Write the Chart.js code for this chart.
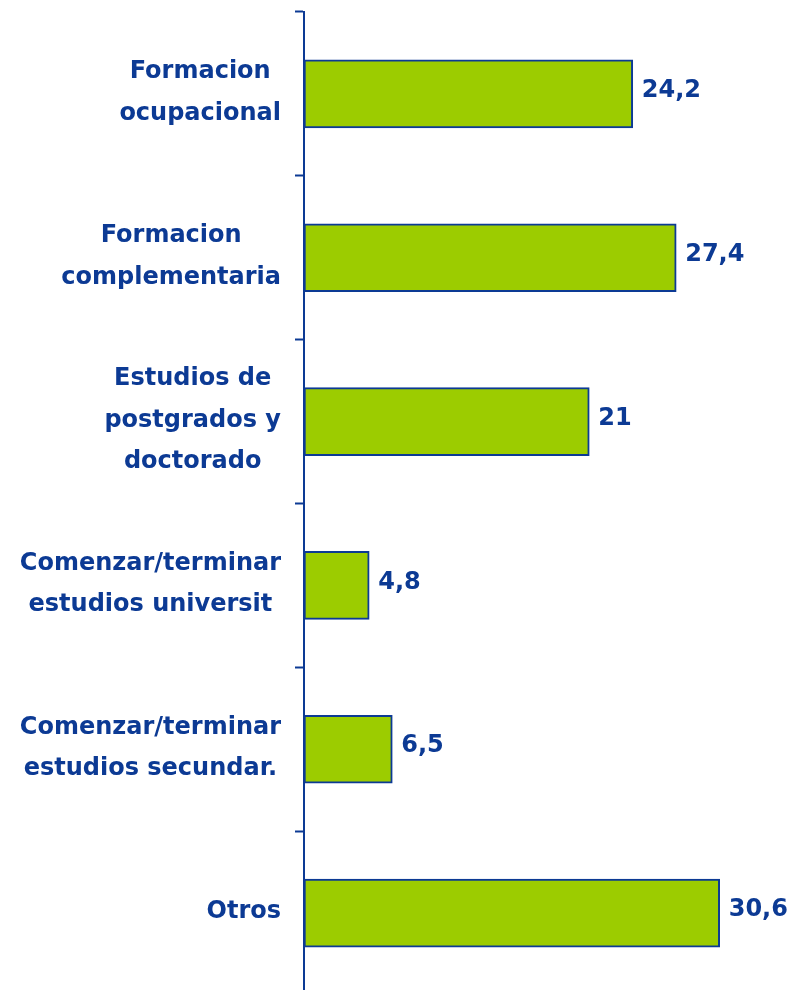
<!DOCTYPE html>
<html>
<head>
<meta charset="utf-8">
<script src="https://cdn.jsdelivr.net/npm/chart.js@4.4.0/dist/chart.umd.min.js"></script>
<style>
  html, body { margin: 0; padding: 0; background: #fff; overflow: hidden; }
  #wrap { width: 791px; height: 995px; }
</style>
</head>
<body>
<div id="wrap"><canvas id="grafico"></canvas></div>
<script>
const categorias = [
  ["Formacion", "ocupacional"],
  ["Formacion", "complementaria"],
  ["Estudios de", "postgrados y", "doctorado"],
  ["Comenzar/terminar", "estudios universit"],
  ["Comenzar/terminar", "estudios secundar."],
  ["Otros"]
];
const valores = [24.2, 27.4, 21, 4.8, 6.5, 30.6];

const azul = "#0c3a94";
const verde = "#9ccc00";
const fonte = "'DejaVu Sans', sans-serif";

// etiquetas das categorias: cada uma centrada no seu proprio bloco, alinhado a direita
const etiquetas = {
  id: "etiquetas",
  afterDraw(chart) {
    const ctx = chart.ctx;
    const y = chart.scales.y;
    const xDir = y.right - 9 - 14;
    const alturaLinha = 41.5;
    ctx.save();
    ctx.font = "bold 24px " + fonte;
    ctx.fillStyle = azul;
    ctx.textAlign = "center";
    ctx.textBaseline = "middle";
    categorias.forEach((linhas, i) => {
      const largura = Math.max(...linhas.map(l => ctx.measureText(l).width));
      const cx = xDir - largura / 2;
      const cy = y.getPixelForTick(i) - 1;
      const inicio = cy - (linhas.length - 1) * alturaLinha / 2;
      linhas.forEach((l, k) => ctx.fillText(l, cx, inicio + k * alturaLinha));
    });
    // valores no fim de cada barra
    ctx.textAlign = "left";
    chart.getDatasetMeta(0).data.forEach((barra, i) => {
      ctx.fillText(String(valores[i]).replace(".", ","), barra.x + 9, barra.y - 3);
    });
    ctx.restore();
  }
};

new Chart(document.getElementById("grafico"), {
  type: "bar",
  data: {
    labels: categorias,
    datasets: [{
      data: valores,
      backgroundColor: verde,
      borderColor: azul,
      borderWidth: 2,
      borderSkipped: false,
      barThickness: 68
    }]
  },
  options: {
    indexAxis: "y",
    responsive: true,
    maintainAspectRatio: false,
    animation: false,
    layout: { padding: { top: 12, right: 0, bottom: 0, left: 0 } },
    plugins: { legend: { display: false }, tooltip: { enabled: false } },
    scales: {
      x: {
        display: false,
        min: 0,
        max: 35.85
      },
      y: {
        afterFit(scale) { scale.width = 304; },
        ticks: { display: false },
        grid: {
          drawOnChartArea: false,
          drawTicks: true,
          tickLength: 9,
          tickWidth: 2,
          tickColor: azul,
          offset: true
        },
        border: { display: true, color: azul, width: 2 }
      }
    }
  },
  plugins: [etiquetas]
});
</script>
</body>
</html>
